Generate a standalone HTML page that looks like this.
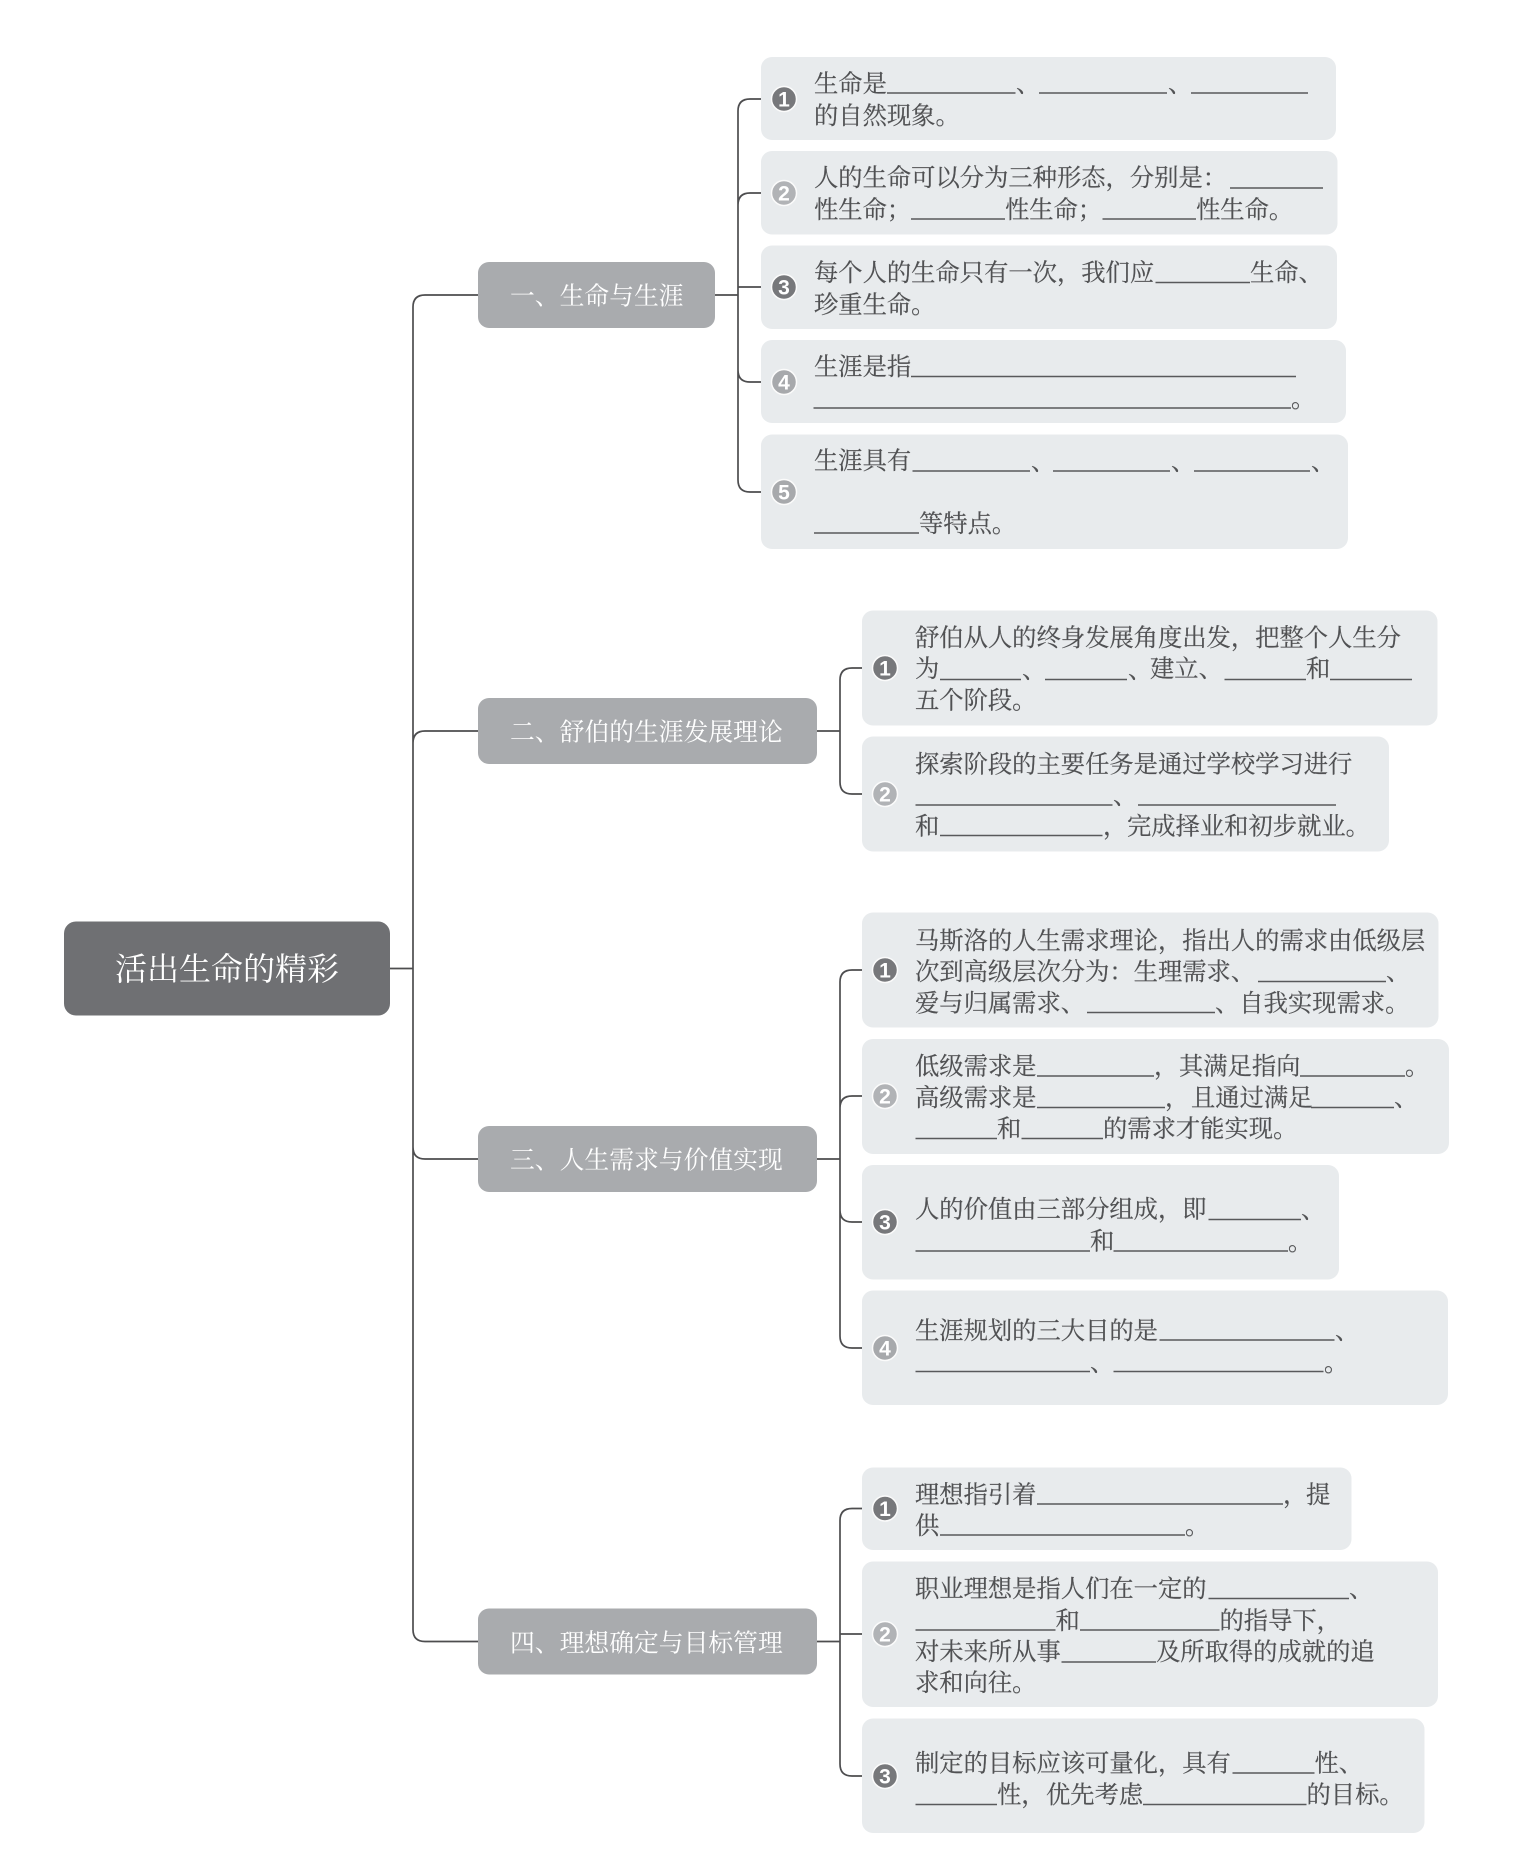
<!DOCTYPE html>
<html lang="zh"><head><meta charset="utf-8"><title>活出生命的精彩</title>
<style>
html,body{margin:0;padding:0;background:#fff}
svg{display:block}
text{font-family:"Liberation Serif","Noto Serif CJK SC",serif}
.t{font-size:24.3px;fill:#505153;stroke:#505153;stroke-width:.2}
.n{font-size:24.8px;fill:#fff}
.r{font-size:32px;fill:#fff}
.d{font-family:"Liberation Sans",sans-serif;font-size:21px;font-weight:bold;fill:#fff;text-anchor:middle}
.c{fill:#e8ebed}
.b{fill:#a9abae}
.u{stroke:#58595b;stroke-width:1.5;fill:none}
.l{stroke:#4d4d4f;stroke-width:1.7;fill:none}
.k{stroke:#fbfbfb;stroke-width:1.5}
</style></head><body>
<svg xmlns="http://www.w3.org/2000/svg" width="1536" height="1854" viewBox="0 0 1536 1854">
<rect width="1536" height="1854" fill="#fff"/>

<!-- connectors -->
<path class="l" d="M390 968.5H413M478 295H425Q413 295 413 307V1629.500Q413 1641.500 425 1641.500H478M478 731H425Q413 731 413 743M478 1159H425Q413 1159 413 1147"/>
<path class="l" d="M715 295H738M762 99H750Q738 99 738 111V480Q738 492 750 492H762M762 193H750Q738 193 738 205M762 287H738M762 382H750Q738 382 738 370"/>
<path class="l" d="M817 731H840M863 668H852Q840 668 840 680V782Q840 794 852 794H863"/>
<path class="l" d="M817 1159H840M863 970H852Q840 970 840 982V1336Q840 1348 852 1348H863M863 1096H852Q840 1096 840 1108M863 1222H852Q840 1222 840 1210"/>
<path class="l" d="M817 1641.500H840M863 1508.500H852Q840 1508.500 840 1520.500V1764Q840 1776 852 1776H863M863 1634H840"/>

<!-- root and section nodes -->
<rect x="64" y="921.5" width="326" height="94" rx="12" fill="#6f7073"/>
<text class="r" x="115" y="980">活出生命的精彩</text>
<rect class="b" x="478" y="262" width="237" height="66" rx="11"/>
<text class="n" x="510" y="304.500">一、生命与生涯</text>
<rect class="b" x="478" y="698" width="339" height="66" rx="11"/>
<text class="n" x="510" y="740.500">二、舒伯的生涯发展理论</text>
<rect class="b" x="478" y="1126" width="339" height="66" rx="11"/>
<text class="n" x="510" y="1168.500">三、人生需求与价值实现</text>
<rect class="b" x="478" y="1608.500" width="339" height="66" rx="11"/>
<text class="n" x="510" y="1651.500">四、理想确定与目标管理</text>

<!-- cards -->
<rect class="c" x="761" y="57" width="575" height="83" rx="11"/>
<rect class="c" x="761" y="151" width="576.5" height="83.5" rx="11"/>
<rect class="c" x="761" y="245.5" width="576" height="83.5" rx="11"/>
<rect class="c" x="761" y="340" width="585" height="83" rx="11"/>
<rect class="c" x="761" y="434.5" width="587" height="114.5" rx="11"/>
<rect class="c" x="862" y="610.500" width="575.5" height="115" rx="11"/>
<rect class="c" x="862" y="736.500" width="527" height="115" rx="11"/>
<rect class="c" x="862" y="912.500" width="576.5" height="115" rx="11"/>
<rect class="c" x="862" y="1039" width="587" height="115" rx="11"/>
<rect class="c" x="862" y="1165" width="477" height="114.5" rx="11"/>
<rect class="c" x="862" y="1290.500" width="586" height="114.5" rx="11"/>
<rect class="c" x="862" y="1467.5" width="489.5" height="82.500" rx="11"/>
<rect class="c" x="862" y="1561.5" width="576" height="145.5" rx="11"/>
<rect class="c" x="862" y="1718.500" width="562.5" height="114.500" rx="11"/>

<!-- number badges -->
<g class="k">
<circle cx="784" cy="99" r="12.500" fill="#77787b"/>
<circle cx="784" cy="193" r="12.500" fill="#b1b3b6"/>
<circle cx="784" cy="287" r="12.500" fill="#77787b"/>
<circle cx="784" cy="382" r="12.500" fill="#a7a9ac"/>
<circle cx="784" cy="492" r="12.500" fill="#a7a9ac"/>
<circle cx="885" cy="668" r="12.500" fill="#77787b"/>
<circle cx="885" cy="794" r="12.500" fill="#b1b3b6"/>
<circle cx="885" cy="970" r="12.500" fill="#77787b"/>
<circle cx="885" cy="1096" r="12.500" fill="#b1b3b6"/>
<circle cx="885" cy="1222" r="12.500" fill="#77787b"/>
<circle cx="885" cy="1348" r="12.500" fill="#a7a9ac"/>
<circle cx="885" cy="1508.500" r="12.500" fill="#77787b"/>
<circle cx="885" cy="1634" r="12.500" fill="#b1b3b6"/>
<circle cx="885" cy="1776" r="12.500" fill="#77787b"/>
</g>
<text class="d" x="784" y="106.500">1</text>
<text class="d" x="784" y="200.500">2</text>
<text class="d" x="784" y="294.500">3</text>
<text class="d" x="784" y="389.500">4</text>
<text class="d" x="784" y="499.500">5</text>
<text class="d" x="885" y="675.500">1</text>
<text class="d" x="885" y="801.500">2</text>
<text class="d" x="885" y="977.500">1</text>
<text class="d" x="885" y="1103.500">2</text>
<text class="d" x="885" y="1229.500">3</text>
<text class="d" x="885" y="1355.500">4</text>
<text class="d" x="885" y="1516">1</text>
<text class="d" x="885" y="1641.500">2</text>
<text class="d" x="885" y="1783.500">3</text>

<!-- section 1 text -->
<text class="t" x="814" y="92">生命是</text>
<path class="u" d="M887 93H1015.500M1039 93H1167M1191 93H1308"/>
<text class="t" x="1016" y="92">、</text><text class="t" x="1168" y="92">、</text>
<text class="t" x="814" y="124">的自然现象。</text>

<text class="t" x="814" y="186">人的生命可以分为三种形态&#xFF0C;分别是&#xFF1A;</text>
<path class="u" d="M1230 188H1323M911 219H1005M1102.500 219H1196"/>
<text class="t" x="814" y="218">性生命&#xFF1B;</text>
<text class="t" x="1005" y="218">性生命&#xFF1B;</text>
<text class="t" x="1196" y="218">性生命。</text>

<text class="t" x="814" y="281">每个人的生命只有一次&#xFF0C;我们应</text>
<path class="u" d="M1155.500 282.500H1250"/>
<text class="t" x="1250" y="281">生命、</text>
<text class="t" x="814" y="313">珍重生命。</text>

<text class="t" x="814" y="375">生涯是指</text>
<path class="u" d="M911 376.500H1296M813.500 408H1291"/>
<text class="t" x="1291" y="407">。</text>

<text class="t" x="814" y="469">生涯具有</text>
<path class="u" d="M912.500 471H1030M1053 471H1170M1194 471H1310M814 533H919"/>
<text class="t" x="1031" y="470">、</text><text class="t" x="1171" y="470">、</text><text class="t" x="1311" y="470">、</text>
<text class="t" x="919" y="532">等特点。</text>

<!-- section 2 text -->
<text class="t" x="915" y="646">舒伯从人的终身发展角度出发&#xFF0C;把整个人生分</text>
<text class="t" x="915" y="677">为</text>
<path class="u" d="M940 679.500H1021M1045 679.500H1127M1224.500 679.500H1306M1330 679.500H1412"/>
<text class="t" x="1022" y="678">、</text><text class="t" x="1128" y="678">、</text>
<text class="t" x="1150" y="677">建立、</text><text class="t" x="1306" y="677">和</text>
<text class="t" x="915" y="708.500">五个阶段。</text>

<text class="t" x="915" y="772.500">探索阶段的主要任务是通过学校学习进行</text>
<path class="u" d="M915.500 805H1112.500M1138 805H1336M940 835.500H1102.500"/>
<text class="t" x="1113" y="804">、</text>
<text class="t" x="915" y="834.500">和</text>
<text class="t" x="1103" y="834.500">&#xFF0C;</text>
<text class="t" x="1127" y="834.500">完成择业和初步就业。</text>

<!-- section 3 text -->
<text class="t" x="915" y="949">马斯洛的人生需求理论&#xFF0C;指出人的需求由低级层</text>
<text class="t" x="915" y="980">次到高级层次分为&#xFF1A;生理需求、</text>
<path class="u" d="M1258 981.500H1386M1087 1012.500H1215"/>
<text class="t" x="1386" y="980">、</text>
<text class="t" x="915" y="1011.500">爱与归属需求、</text>
<text class="t" x="1215" y="1011.500">、自我实现需求。</text>

<text class="t" x="915" y="1074.500">低级需求是</text>
<path class="u" d="M1037 1076H1154M1300 1076H1405"/>
<text class="t" x="1154" y="1074.500">&#xFF0C;</text>
<text class="t" x="1179" y="1074.500">其满足指向</text>
<text class="t" x="1405" y="1074.500">。</text>
<text class="t" x="915" y="1106">高级需求是</text>
<path class="u" d="M1037 1107.500H1165M1311 1107.500H1394M915.500 1138.500H997M1021.500 1138.500H1103"/>
<text class="t" x="1165" y="1106">&#xFF0C;</text>
<text class="t" x="1191" y="1106">且通过满足</text>
<text class="t" x="1394" y="1106">、</text>
<text class="t" x="997" y="1137">和</text>
<text class="t" x="1103" y="1137">的需求才能实现。</text>

<text class="t" x="915" y="1217.500">人的价值由三部分组成&#xFF0C;即</text>
<path class="u" d="M1208.500 1219.500H1301M915.500 1251H1090M1113.500 1251H1288"/>
<text class="t" x="1301" y="1218">、</text>
<text class="t" x="1090" y="1249.500">和</text>
<text class="t" x="1288" y="1250">。</text>

<text class="t" x="915" y="1339">生涯规划的三大目的是</text>
<path class="u" d="M1159.500 1340H1334.500M915.500 1371.500H1090M1113.500 1371.500H1323.500"/>
<text class="t" x="1335" y="1339">、</text>
<text class="t" x="1090" y="1371">、</text>
<text class="t" x="1324" y="1371">。</text>

<!-- section 4 text -->
<text class="t" x="915" y="1503">理想指引着</text>
<path class="u" d="M1037 1504H1283M940 1535H1185"/>
<text class="t" x="1283" y="1503">&#xFF0C;</text>
<text class="t" x="1306" y="1503">提</text>
<text class="t" x="915" y="1534">供</text>
<text class="t" x="1185" y="1534">。</text>

<text class="t" x="915" y="1597">职业理想是指人们在一定的</text>
<path class="u" d="M1208.500 1598.500H1349M915.500 1630H1055.500M1080 1630H1219.500M1061.500 1662H1156"/>
<text class="t" x="1349" y="1597">、</text>
<text class="t" x="1055.500" y="1629">和</text>
<text class="t" x="1219.500" y="1629">的指导下&#xFF0C;</text>
<text class="t" x="915" y="1660">对未来所从事</text>
<text class="t" x="1156" y="1660">及所取得的成就的追</text>
<text class="t" x="915" y="1691">求和向往。</text>

<text class="t" x="915" y="1771.500">制定的目标应该可量化&#xFF0C;具有</text>
<path class="u" d="M1232.500 1773H1314.500M915.500 1804.500H997M1143 1804.500H1306.500"/>
<text class="t" x="1314.500" y="1771.500">性、</text>
<text class="t" x="997" y="1803">性&#xFF0C;</text>
<text class="t" x="1046" y="1803">优先考虑</text>
<text class="t" x="1306.500" y="1803">的目标。</text>
</svg>
</body></html>
